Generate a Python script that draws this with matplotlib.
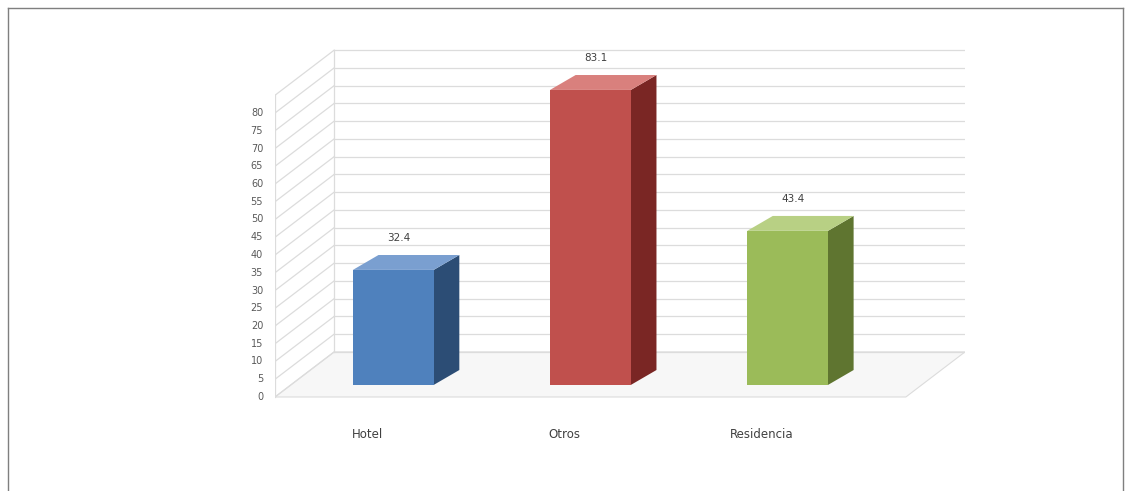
import matplotlib.pyplot as plt
from matplotlib.patches import Polygon
import numpy as np

categories = ['Hotel', 'Otros', 'Residencia']
values = [32.4, 83.1, 43.4]
value_labels = ['32.4', '83.1', '43.4']
y_ticks = list(range(0, 85, 5))

front_colors = ['#4f81bd', '#c0504d', '#9bbb59']
side_colors = ['#2c4d75', '#7a2624', '#5f7530']
top_colors = ['#7a9fd0', '#d9807d', '#b8d084']

fig = plt.figure(figsize=(11.31, 4.91), dpi=100)

# thin frame round the picture (bottom edge falls off the canvas)
W, H = 1131, 491
for xs, ys in [([8, 1123], [H - 8, H - 8]), ([8, 8], [0, H - 8]), ([1123, 1123], [0, H - 8])]:
    fig.add_artist(plt.Line2D(np.array(xs) / W, np.array(ys) / H, color='#7f7f7f', lw=1.0))

ax = fig.add_axes([275 / W, (H - 432.5) / H, 690 / W, 390.5 / H])
x0, x1 = -0.6, 2.9
ax.set_xlim(x0, x1)
ax.set_ylim(-10, 100)
ax.axis('off')

# depth of the back wall and of the bars (data units)
wx, wy = 0.30, 12.7
by = 3.4
bd_x, bd_y = 0.13, 4.2
width = 0.41

grid_c = '#dcdcdc'
# floor
ax.add_patch(Polygon([(x0, 0), (x1 - wx, 0), (x1, wy), (x0 + wx, wy)],
                     closed=True, fc='#f7f7f7', ec=grid_c, lw=0.8, zorder=0))
# back wall and side wall gridlines
for v in y_ticks + [85]:
    ax.plot([x0 + wx, x1], [v + wy, v + wy], color=grid_c, lw=0.9, zorder=1)
    ax.plot([x0, x0 + wx], [v, v + wy], color=grid_c, lw=0.9, zorder=1)
ax.plot([x0, x0], [0, 85], color=grid_c, lw=0.9, zorder=1)
ax.plot([x0 + wx, x0 + wx], [wy, 85 + wy], color=grid_c, lw=0.9, zorder=1)

for v in y_ticks:
    ax.text(x0 - 0.06, v, str(v), ha='right', va='center', fontsize=7,
            color='#595959', clip_on=False)

for i, (cat, val) in enumerate(zip(categories, values)):
    l = i - width / 2
    r = i + width / 2
    b = by
    t = by + val
    # side face
    ax.add_patch(Polygon([(r, b), (r + bd_x, b + bd_y), (r + bd_x, t + bd_y), (r, t)],
                         closed=True, fc=side_colors[i], ec='none', zorder=3))
    # top face
    ax.add_patch(Polygon([(l, t), (r, t), (r + bd_x, t + bd_y), (l + bd_x, t + bd_y)],
                         closed=True, fc=top_colors[i], ec='none', zorder=3))
    # front face
    ax.bar(i, val, width=width, bottom=b, color=front_colors[i], edgecolor='none', zorder=4)
    ax.text(i + 0.03, t + bd_y + 3.5, value_labels[i], ha='center', va='bottom',
            fontsize=7.5, color='#404040', zorder=5)
    ax.text(i - 0.13, -10.7, cat, ha='center', va='center', fontsize=8.5,
            color='#404040', clip_on=False)

fig.savefig('out.png', dpi=100)
